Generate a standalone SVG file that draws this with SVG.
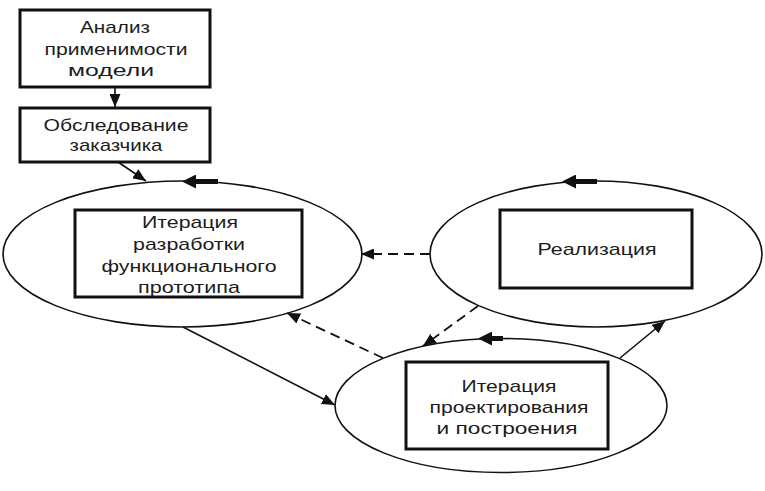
<svg xmlns="http://www.w3.org/2000/svg" width="765" height="491" viewBox="0 0 765 491">
<style>
.box{fill:#fff;stroke:#111;stroke-width:3}
.ell{fill:#fff;stroke:#111;stroke-width:1.6}
.t{font-family:"Liberation Sans",Arial,sans-serif;font-size:17px;fill:#1c1c1c;text-anchor:middle}
.c{fill:none;stroke:#111;stroke-width:1.6}
.d{fill:none;stroke:#111;stroke-width:1.8;stroke-dasharray:10 6}
.k{fill:none;stroke:#111;stroke-width:5}
</style>
<defs>
<marker id="a" markerUnits="userSpaceOnUse" markerWidth="13" markerHeight="11" refX="13" refY="5.5" orient="auto">
<path d="M0,0 L13,5.5 L0,11 z" fill="#111"/>
</marker>
<marker id="h" markerUnits="userSpaceOnUse" markerWidth="14" markerHeight="14" refX="0" refY="7" orient="auto">
<path d="M0,0 L14,7 L0,14 z" fill="#111"/>
</marker>
</defs>
<g id="ellipse-prototype"><ellipse class="ell" cx="182.5" cy="254" rx="179.5" ry="73"/></g>
<g id="ellipse-realization"><ellipse class="ell" cx="596" cy="254" rx="166" ry="73"/></g>
<g id="ellipse-design"><ellipse class="ell" cx="501" cy="405.5" rx="166" ry="67"/></g>
<g id="connectors">
<line class="c" x1="115" y1="87" x2="115" y2="107" marker-end="url(#a)"/>
<line class="c" x1="118" y1="162" x2="146" y2="181" marker-end="url(#a)"/>
<line class="d" x1="430" y1="254" x2="361" y2="254" marker-end="url(#a)"/>
<line class="c" x1="183" y1="327" x2="335" y2="405" marker-end="url(#a)"/>
<line class="d" x1="383" y1="358" x2="287" y2="313" marker-end="url(#a)"/>
<line class="d" x1="478" y1="306" x2="423" y2="346" marker-end="url(#a)"/>
<line class="c" x1="620" y1="358" x2="665" y2="321" marker-end="url(#a)"/>
<line class="k" x1="218" y1="181.5" x2="196" y2="181.5" marker-end="url(#h)"/>
<line class="k" x1="597" y1="181.5" x2="576" y2="181.5" marker-end="url(#h)"/>
<line class="k" x1="503" y1="338.5" x2="492" y2="338.5" marker-end="url(#h)"/>
</g>
<g id="node-analysis">
<rect class="box" x="20" y="10" width="190" height="77"/>
<text class="t" x="115" y="33" textLength="70" lengthAdjust="spacingAndGlyphs">Анализ</text>
<text class="t" x="116" y="55" textLength="143" lengthAdjust="spacingAndGlyphs">применимости</text>
<text class="t" x="111" y="76" textLength="86" lengthAdjust="spacingAndGlyphs">модели</text>
</g>
<g id="node-survey">
<rect class="box" x="20" y="108" width="190" height="54"/>
<text class="t" x="116" y="131" textLength="145" lengthAdjust="spacingAndGlyphs">Обследование</text>
<text class="t" x="116" y="151" textLength="93" lengthAdjust="spacingAndGlyphs">заказчика</text>
</g>
<g id="node-prototype">
<rect class="box" x="75" y="210" width="227" height="87"/>
<text class="t" x="190" y="228" textLength="96" lengthAdjust="spacingAndGlyphs">Итерация</text>
<text class="t" x="189" y="250" textLength="112" lengthAdjust="spacingAndGlyphs">разработки</text>
<text class="t" x="189" y="272" textLength="175" lengthAdjust="spacingAndGlyphs">функционального</text>
<text class="t" x="189" y="293" textLength="102" lengthAdjust="spacingAndGlyphs">прототипа</text>
</g>
<g id="node-realization">
<rect class="box" x="500" y="210" width="192" height="78"/>
<text class="t" x="597" y="255" textLength="119" lengthAdjust="spacingAndGlyphs">Реализация</text>
</g>
<g id="node-design">
<rect class="box" x="406" y="362" width="202" height="87"/>
<text class="t" x="509" y="392" textLength="95" lengthAdjust="spacingAndGlyphs">Итерация</text>
<text class="t" x="509" y="413" textLength="159" lengthAdjust="spacingAndGlyphs">проектирования</text>
<text class="t" x="507" y="434" textLength="141" lengthAdjust="spacingAndGlyphs">и построения</text>
</g>
</svg>
